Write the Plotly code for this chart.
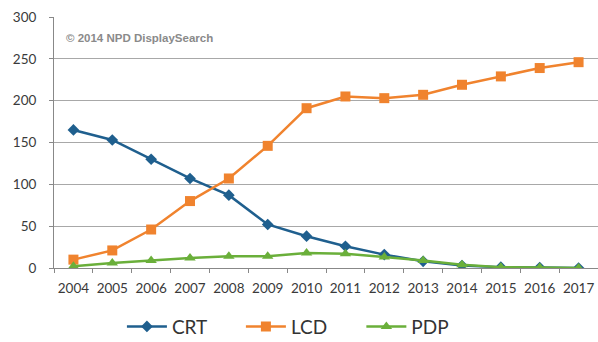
import plotly.graph_objects as go

years = [str(y) for y in range(2004, 2018)]
crt = [165, 153, 130, 107, 87, 52, 38, 26, 16, 8, 3, 1, 0.5, 0]
lcd = [10, 21, 46, 80, 107, 146, 191, 205, 203, 207, 219, 229, 239, 246]
pdp = [2, 6, 9, 12, 14, 14, 18, 17, 13, 9, 4, 1, 0.5, 0]
y_ticks = [0, 50, 100, 150, 200, 250, 300]

fig = go.Figure()
fig.add_trace(go.Scatter(x=years, y=crt, name="CRT      ", mode="lines+markers",
                         line=dict(color="#1F5F8E", width=2.5),
                         marker=dict(symbol="diamond", size=9, color="#1F5F8E")))
fig.add_trace(go.Scatter(x=years, y=lcd, name="LCD      ", mode="lines+markers",
                         line=dict(color="#F0832E", width=2.5),
                         marker=dict(symbol="square", size=10, color="#F0832E")))
fig.add_trace(go.Scatter(x=years, y=pdp, name="PDP", mode="lines+markers",
                         line=dict(color="#6AAF3A", width=2.5),
                         marker=dict(symbol="triangle-up", size=10, color="#6AAF3A")))

fig.update_layout(
    width=598, height=342,
    margin=dict(l=54, r=0, t=17, b=74),
    paper_bgcolor="white", plot_bgcolor="white",
    font=dict(family="Lato, Open Sans, sans-serif", color="#3A3A3A", size=13),
    showlegend=True,
    legend=dict(orientation="h", x=0.43, xanchor="center",
                yref="container", y=0.045, yanchor="middle",
                font=dict(size=19, color="#333333"), itemwidth=40,
                traceorder="normal"),
    annotations=[dict(text="<b>© 2014 NPD DisplaySearch</b>", x=0.018, y=0.916,
                      xref="paper", yref="paper", xanchor="left", yanchor="middle",
                      showarrow=False,
                      font=dict(size=11.5, color="#8A8A8A", family="Liberation Sans"))],
)
fig.update_xaxes(type="category", range=[-0.5, len(years) - 0.5],
                 tickson="boundaries", ticks="outside", ticklen=4,
                 tickcolor="#888888", showline=True, linecolor="#888888", linewidth=1,
                 showgrid=False, ticklabelstandoff=8, tickangle=0, automargin=False,
                 tickfont=dict(size=13.5))
fig.update_yaxes(range=[0, 300], tickvals=y_ticks, ticks="outside", ticklen=4,
                 tickcolor="#888888", showline=True, linecolor="#888888",
                 gridcolor="#A8A8A8", gridwidth=1, zeroline=False, automargin=False,
                 ticklabelstandoff=10, tickfont=dict(size=13.5))

fig.write_html("out.html")
